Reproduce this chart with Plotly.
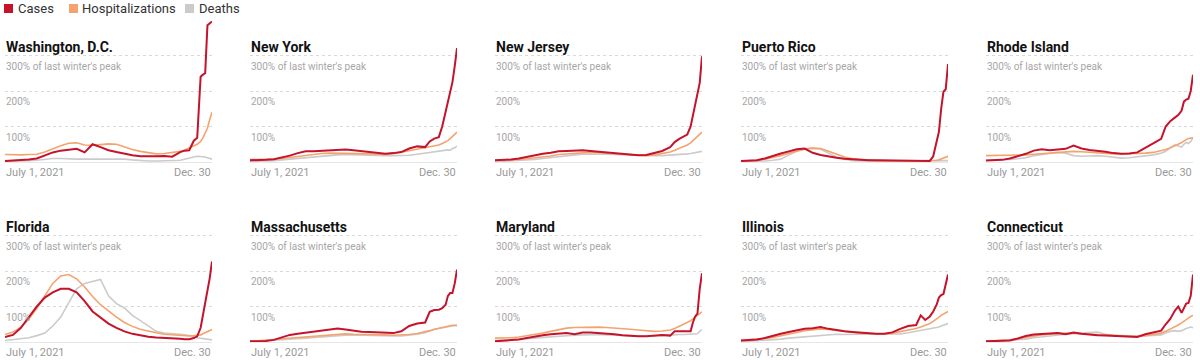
import plotly.graph_objects as go

# ---------------- DATA ----------------
DATES = ["2021-07-01", "2021-07-08", "2021-07-15", "2021-07-22", "2021-07-29",
         "2021-08-05", "2021-08-12", "2021-08-19", "2021-08-26", "2021-09-02",
         "2021-09-09", "2021-09-16", "2021-09-23", "2021-09-30", "2021-10-07",
         "2021-10-14", "2021-10-21", "2021-10-28", "2021-11-04", "2021-11-11",
         "2021-11-18", "2021-11-25", "2021-12-02", "2021-12-06", "2021-12-10",
         "2021-12-14", "2021-12-17", "2021-12-20", "2021-12-22", "2021-12-24",
         "2021-12-26", "2021-12-28", "2021-12-30"]

STATES = ["Washington, D.C.", "New York", "New Jersey", "Puerto Rico", "Rhode Island",
          "Florida", "Massachusetts", "Maryland", "Illinois", "Connecticut"]

# values in % of last winter's peak
DC_CASES = [3, 4, 5, 7, 10, 18, 27, 32, 35, 37, 27, 50, 42, 33, 28, 23, 19, 16, 15, 16, 17, 15, 28, 32, 33, 60, 68, 240, 246, 250, 385, 392, 396]
DC_HOSP = [21, 20, 20, 21, 22, 28, 38, 46, 53, 54, 48, 47, 49, 51, 50, 42, 35, 30, 26, 23, 24, 26, 30, 34, 40, 45, 50, 58, 68, 82, 95, 120, 140]
DC_DEATHS = [2, 2, 3, 4, 5, 8, 10, 10, 8, 8, 8, 9, 8, 8, 9, 8, 6, 4, 3, 3, 4, 3, 5, 8, 10, 14, 16, 16, 15, 14, 12, 10, 8]

NY_CASES = [5, 5, 6, 8, 12, 18, 25, 30, 30, 31, 32, 34, 35, 33, 31, 29, 26, 23, 25, 28, 38, 44, 42, 58, 66, 70, 100, 140, 165, 190, 225, 270, 321]
NY_HOSP = [7, 7, 8, 8, 10, 13, 16, 20, 23, 24, 25, 25, 25, 24, 23, 23, 22, 21, 23, 27, 31, 36, 40, 42, 45, 48, 52, 56, 60, 66, 72, 78, 84]
NY_DEATHS = [2, 2, 3, 4, 6, 8, 11, 14, 16, 17, 19, 20, 21, 20, 19, 18, 18, 18, 18, 18, 19, 22, 25, 27, 29, 31, 33, 34, 34, 33, 38, 40, 45]

NJ_CASES = [5, 5, 7, 10, 15, 20, 23, 26, 30, 31, 33, 33, 31, 29, 27, 24, 21, 20, 19, 20, 25, 31, 42, 56, 65, 72, 77, 100, 129, 160, 194, 223, 298]
NJ_HOSP = [5, 5, 6, 7, 9, 11, 14, 17, 21, 23, 25, 26, 27, 26, 25, 23, 21, 20, 19, 18, 20, 23, 28, 33, 38, 44, 48, 54, 60, 66, 72, 78, 84]
NJ_DEATHS = [1, 2, 3, 4, 6, 7, 10, 13, 16, 18, 20, 22, 23, 22, 22, 21, 20, 19, 18, 18, 18, 18, 19, 20, 21, 22, 23, 24, 25, 26, 27, 28, 30]

PR_CASES = [3, 4, 5, 10, 18, 24, 30, 36, 38, 26, 20, 15, 12, 9, 7, 6, 5, 5, 5, 5, 5, 5, 4, 4, 3, 3, 16, 55, 85, 150, 198, 205, 276]
PR_HOSP = [2, 3, 5, 8, 12, 18, 25, 32, 37, 39, 38, 30, 21, 14, 9, 7, 5, 4, 4, 3, 3, 3, 3, 3, 3, 3, 4, 5, 6, 8, 10, 13, 16]
PR_DEATHS = [1, 1, 2, 3, 5, 8, 20, 30, 36, 39, 36, 25, 14, 8, 4, 3, 2, 2, 2, 2, 2, 2, 2, 2, 2, 2, 2, 2, 3, 3, 3, 4, 4]

RI_CASES = [4, 4, 6, 10, 16, 23, 32, 36, 33, 35, 37, 46, 38, 34, 32, 29, 25, 23, 24, 27, 40, 52, 65, 100, 115, 125, 132, 145, 170, 176, 178, 200, 246]
RI_HOSP = [18, 18, 18, 18, 19, 20, 22, 24, 25, 27, 29, 30, 29, 27, 25, 23, 23, 23, 23, 24, 25, 27, 31, 35, 40, 45, 50, 55, 60, 63, 66, 67, 68]
RI_DEATHS = [5, 5, 6, 7, 9, 12, 18, 22, 24, 27, 25, 18, 16, 17, 18, 16, 13, 11, 12, 14, 16, 20, 25, 30, 40, 48, 45, 42, 50, 55, 52, 58, 68]

FL_CASES = [14, 20, 40, 70, 100, 125, 140, 150, 150, 140, 115, 86, 68, 52, 40, 30, 23, 18, 15, 13, 11, 10, 9, 8, 8, 11, 16, 40, 75, 110, 140, 180, 227]
FL_HOSP = [21, 28, 42, 65, 95, 130, 165, 186, 190, 178, 155, 128, 105, 88, 70, 55, 44, 36, 30, 26, 22, 20, 18, 17, 17, 18, 18, 20, 23, 26, 29, 32, 35]
FL_DEATHS = [4, 6, 9, 12, 18, 25, 45, 70, 110, 150, 165, 170, 176, 130, 108, 96, 75, 60, 45, 30, 25, 24, 22, 20, 18, 16, 12, 11, 10, 9, 8, 7, 6]

MA_CASES = [2, 2, 3, 6, 14, 20, 23, 26, 28, 32, 33, 38, 35, 31, 29, 28, 27, 26, 25, 30, 45, 52, 55, 85, 90, 91, 95, 105, 130, 138, 138, 165, 204]
MA_HOSP = [2, 3, 5, 7, 9, 11, 13, 15, 17, 19, 21, 22, 23, 22, 22, 21, 21, 20, 19, 19, 21, 24, 28, 32, 36, 39, 42, 44, 46, 47, 47, 47, 47]
MA_DEATHS = [1, 2, 3, 4, 5, 7, 9, 11, 13, 15, 16, 18, 19, 20, 19, 19, 18, 18, 17, 17, 19, 22, 26, 31, 35, 38, 40, 43, 44, 44, 45, 46, 46]

MD_CASES = [2, 3, 4, 7, 11, 16, 19, 22, 23, 25, 22, 27, 27, 26, 25, 22, 19, 17, 16, 16, 18, 20, 18, 30, 30, 30, 30, 30, 55, 72, 80, 150, 194]
MD_HOSP = [11, 11, 12, 14, 17, 21, 25, 30, 35, 39, 41, 42, 42, 42, 41, 40, 38, 36, 34, 31, 30, 31, 34, 38, 44, 50, 55, 60, 65, 70, 75, 80, 85]
MD_DEATHS = [4, 5, 6, 7, 9, 11, 13, 15, 16, 18, 19, 20, 21, 21, 20, 20, 19, 18, 17, 16, 17, 18, 20, 21, 21, 21, 21, 21, 22, 22, 23, 30, 35]

IL_CASES = [4, 5, 7, 11, 18, 23, 28, 33, 37, 39, 42, 37, 33, 30, 28, 26, 24, 23, 23, 27, 37, 45, 48, 75, 62, 72, 86, 105, 125, 132, 135, 160, 190]
IL_HOSP = [5, 6, 8, 10, 13, 17, 22, 27, 32, 35, 37, 35, 32, 30, 27, 25, 24, 23, 23, 25, 29, 33, 38, 42, 46, 52, 58, 64, 70, 75, 78, 82, 86]
IL_DEATHS = [1, 2, 3, 4, 6, 8, 11, 13, 16, 18, 20, 22, 22, 21, 21, 21, 21, 21, 21, 22, 23, 26, 30, 34, 36, 38, 39, 40, 42, 45, 48, 50, 52]

CT_CASES = [2, 2, 2, 4, 10, 17, 21, 23, 24, 25, 22, 27, 23, 20, 19, 18, 17, 16, 15, 14, 22, 28, 32, 50, 65, 88, 100, 82, 95, 108, 110, 130, 190]
CT_HOSP = [2, 3, 4, 6, 9, 13, 17, 20, 22, 24, 25, 24, 23, 22, 21, 20, 19, 18, 17, 16, 18, 21, 25, 30, 36, 42, 48, 54, 59, 64, 68, 72, 75]
CT_DEATHS = [1, 2, 3, 4, 6, 8, 12, 15, 17, 20, 22, 24, 25, 28, 28, 22, 18, 17, 16, 16, 17, 18, 20, 25, 30, 32, 30, 32, 36, 38, 40, 42, 40]

CASES = [DC_CASES, NY_CASES, NJ_CASES, PR_CASES, RI_CASES,
         FL_CASES, MA_CASES, MD_CASES, IL_CASES, CT_CASES]
HOSP = [DC_HOSP, NY_HOSP, NJ_HOSP, PR_HOSP, RI_HOSP,
        FL_HOSP, MA_HOSP, MD_HOSP, IL_HOSP, CT_HOSP]
DEATHS = [DC_DEATHS, NY_DEATHS, NJ_DEATHS, PR_DEATHS, RI_DEATHS,
          FL_DEATHS, MA_DEATHS, MD_DEATHS, IL_DEATHS, CT_DEATHS]

SERIES = ["Cases", "Hospitalizations", "Deaths"]
Y_TICKS = [100, 200, 300]
Y_TICK_LABELS = ["100%", "200%", "300% of last winter's peak"]
START_LABEL = "July 1, 2021"
END_LABEL = "Dec. 30"

# ---------------- STYLE / LAYOUT ----------------
COLORS = {"Cases": "#c4132b", "Hospitalizations": "#f5a36e", "Deaths": "#cbcbcb"}
WIDTHS = {"Cases": 2.0, "Hospitalizations": 1.6, "Deaths": 1.6}
FONT = "Roboto"
W, H = 1200, 360
COL_X0 = [5, 250, 495, 741, 986]
PANEL_W = 207
ROW_BASE = [162, 342]
PX_PER_PCT = 0.355
Y_MAX = 400
TITLE_OFFSET = 115  # px above baseline

fig = go.Figure()
layout = {}
annotations = []
shapes = []

for i, name in enumerate(STATES):
    r, c = divmod(i, 5)
    n = i + 1
    xa = "x" if n == 1 else f"x{n}"
    ya = "y" if n == 1 else f"y{n}"
    xkey = "xaxis" if n == 1 else f"xaxis{n}"
    ykey = "yaxis" if n == 1 else f"yaxis{n}"
    left = COL_X0[c]
    base = ROW_BASE[r]
    top = base - Y_MAX * PX_PER_PCT
    dom_x = [left / W, (left + PANEL_W) / W]
    dom_y = [1 - base / H, 1 - top / H]

    data = {"Cases": CASES[i], "Hospitalizations": HOSP[i], "Deaths": DEATHS[i]}
    for s in ["Deaths", "Hospitalizations", "Cases"]:
        fig.add_trace(go.Scatter(
            x=DATES, y=data[s], mode="lines", name=s,
            line=dict(color=COLORS[s], width=WIDTHS[s]),
            xaxis=xa, yaxis=ya, showlegend=False, hoverinfo="skip"))

    layout[xkey] = dict(domain=dom_x, anchor=ya, type="date",
                        range=[DATES[0], DATES[-1]], showgrid=False,
                        showticklabels=False, zeroline=False, showline=False,
                        ticks="", fixedrange=True)
    layout[ykey] = dict(domain=dom_y, anchor=xa, range=[0, Y_MAX],
                        tickvals=Y_TICKS, showticklabels=False,
                        showgrid=True, gridcolor="#d9d9d9", griddash="dot",
                        gridwidth=1, zeroline=True, zerolinecolor="#e6e6e6",
                        zerolinewidth=1, showline=False, ticks="",
                        fixedrange=True)

    # panel title
    annotations.append(dict(
        text=f"<b>{name}</b>", xref="paper", yref="paper",
        x=left / W, y=1 - (base - TITLE_OFFSET) / H,
        xanchor="left", yanchor="middle", showarrow=False, xshift=-1,
        font=dict(family=FONT, size=14, color="#121212")))
    # y tick labels (just below gridlines)
    for tv, tl in zip(Y_TICKS, Y_TICK_LABELS):
        annotations.append(dict(
            text=tl, xref=f"{xa} domain", yref=ya, x=0, y=tv,
            xanchor="left", yanchor="top", yshift=-3, xshift=-1,
            showarrow=False,
            font=dict(family=FONT, size=10, color="#a6a6a6")))
    # x labels
    annotations.append(dict(
        text=START_LABEL, xref=xa, yref=ya, x=DATES[0], y=0,
        xanchor="left", yanchor="top", yshift=-2, xshift=-1, showarrow=False,
        font=dict(family=FONT, size=11, color="#999999")))
    annotations.append(dict(
        text=END_LABEL, xref=xa, yref=ya, x=DATES[-1], y=0,
        xanchor="right", yanchor="top", yshift=-2, xshift=1, showarrow=False,
        font=dict(family=FONT, size=11, color="#999999")))

# legend (squares + text)
LEG_SQ_X = [4, 69, 185]
LEG_TX_X = [16, 80, 197]
for s, sx, tx in zip(SERIES, LEG_SQ_X, LEG_TX_X):
    shapes.append(dict(type="rect", xref="paper", yref="paper",
                       x0=sx / W, x1=(sx + 9) / W, y0=1 - 13 / H, y1=1 - 4 / H,
                       fillcolor=COLORS[s], line=dict(width=0)))
    annotations.append(dict(
        text=s, xref="paper", yref="paper", x=tx / W, y=1 - 8.5 / H,
        xanchor="left", yanchor="middle", showarrow=False,
        font=dict(family=FONT, size=13, color="#333333")))

fig.update_layout(
    width=W, height=H, margin=dict(l=0, r=0, t=0, b=0),
    paper_bgcolor="white", plot_bgcolor="white",
    showlegend=False, annotations=annotations, shapes=shapes,
    font=dict(family=FONT), **layout)

fig.write_html("out.html", config={"displayModeBar": False},
               post_script="document.body.style.margin='0';document.body.style.overflow='hidden';")
